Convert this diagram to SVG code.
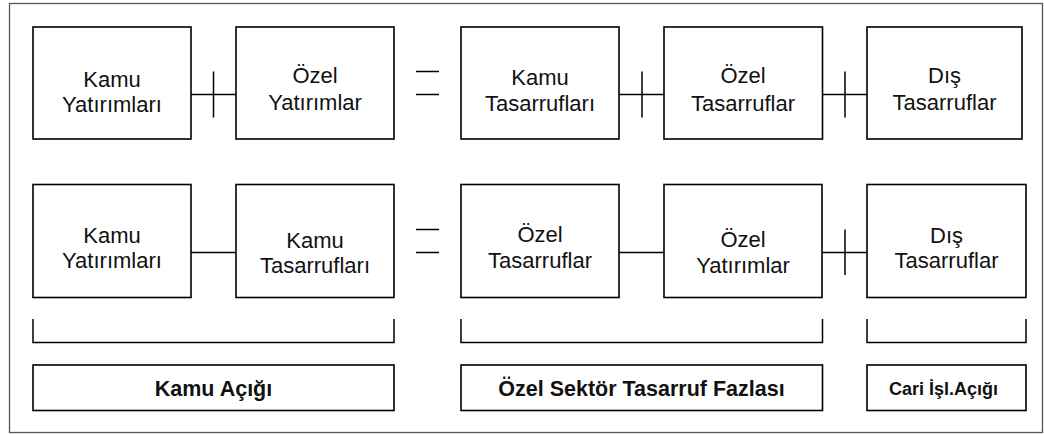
<svg xmlns="http://www.w3.org/2000/svg" width="1044" height="434" viewBox="0 0 1044 434">
  <style>
    .frame { fill: #ffffff; stroke: #555555; stroke-width: 1.3; }
    .box { fill: #ffffff; stroke: #000000; stroke-width: 1.6; }
    .line { fill: none; stroke: #000000; stroke-width: 1.5; }
    .lbl { font-family: "Liberation Sans", Arial, Helvetica, sans-serif; font-size: 22px; fill: #111111; text-anchor: middle; }
    .sum { font-family: "Liberation Sans", Arial, Helvetica, sans-serif; font-weight: bold; fill: #111111; text-anchor: middle; }
  </style>

  <!-- outer frame -->
  <rect class="frame" x="9.5" y="3.5" width="1033" height="429"/>

  <!-- first identity: investments = savings -->
  <g id="r1-kamu-yatirimlari">
    <rect class="box" x="33" y="27" width="158" height="112"/>
    <text class="lbl" x="112" y="86.5">Kamu</text>
    <text class="lbl" x="112" y="112">Yatırımları</text>
  </g>
  <g id="r1-ozel-yatirimlar">
    <rect class="box" x="236" y="27" width="158" height="112"/>
    <text class="lbl" x="315" y="83">Özel</text>
    <text class="lbl" x="315" y="110">Yatırımlar</text>
  </g>
  <g id="r1-kamu-tasarruflari">
    <rect class="box" x="461" y="27" width="158" height="112"/>
    <text class="lbl" x="540" y="85">Kamu</text>
    <text class="lbl" x="540" y="111">Tasarrufları</text>
  </g>
  <g id="r1-ozel-tasarruflar">
    <rect class="box" x="664" y="27" width="158.5" height="112"/>
    <text class="lbl" x="743" y="83">Özel</text>
    <text class="lbl" x="743" y="110.5">Tasarruflar</text>
  </g>
  <g id="r1-dis-tasarruflar">
    <rect class="box" x="867" y="27" width="155" height="112"/>
    <text class="lbl" x="944.5" y="83">Dış</text>
    <text class="lbl" x="944.5" y="110">Tasarruflar</text>
  </g>

  <!-- second identity: rearranged balances -->
  <g id="r2-kamu-yatirimlari">
    <rect class="box" x="33" y="184.5" width="158" height="113"/>
    <text class="lbl" x="112" y="243">Kamu</text>
    <text class="lbl" x="112" y="268">Yatırımları</text>
  </g>
  <g id="r2-kamu-tasarruflari">
    <rect class="box" x="236" y="184.5" width="158" height="113"/>
    <text class="lbl" x="315" y="248">Kamu</text>
    <text class="lbl" x="315" y="273">Tasarrufları</text>
  </g>
  <g id="r2-ozel-tasarruflar">
    <rect class="box" x="461" y="184.5" width="158" height="113"/>
    <text class="lbl" x="540" y="242">Özel</text>
    <text class="lbl" x="540" y="268">Tasarruflar</text>
  </g>
  <g id="r2-ozel-yatirimlar">
    <rect class="box" x="664" y="184.5" width="158" height="113"/>
    <text class="lbl" x="743" y="247">Özel</text>
    <text class="lbl" x="743" y="273">Yatırımlar</text>
  </g>
  <g id="r2-dis-tasarruflar">
    <rect class="box" x="867" y="184.5" width="159" height="113"/>
    <text class="lbl" x="946.5" y="243">Dış</text>
    <text class="lbl" x="946.5" y="268">Tasarruflar</text>
  </g>

  <!-- connectors: links, plus ticks, equals signs, brackets -->
  <g id="connectors">
    <path class="line" d="M191,94.5 H236 M213.5,71.5 V117.5"/>
    <path class="line" d="M619,94.5 H664 M642,71.5 V117.5"/>
    <path class="line" d="M822.5,94.5 H867 M845,71.5 V117.5"/>
    <path class="line" d="M416,71.5 H439 M416,94.5 H439"/>

    <path class="line" d="M191,252.5 H236"/>
    <path class="line" d="M619,252.5 H664"/>
    <path class="line" d="M822,252.5 H867 M845,229.5 V275"/>
    <path class="line" d="M416,229.5 H439 M416,252.5 H439"/>

    <path class="line" d="M33,319 V342.5 H394 V319"/>
    <path class="line" d="M461,319 V342.5 H822.5 V319"/>
    <path class="line" d="M867,319 V342.5 H1026 V319"/>
  </g>

  <!-- resulting balances -->
  <g id="kamu-acigi">
    <rect class="box" x="33" y="365" width="361" height="45.5"/>
    <text class="sum" x="213.5" y="396" font-size="21.5">Kamu Açığı</text>
  </g>
  <g id="ozel-sektor-tasarruf-fazlasi">
    <rect class="box" x="461" y="365" width="361.5" height="45.5"/>
    <text class="sum" x="641.5" y="396" font-size="21.5">Özel Sektör Tasarruf Fazlası</text>
  </g>
  <g id="cari-isl-acigi">
    <rect class="box" x="867" y="365" width="159" height="45.5"/>
    <text class="sum" x="943.5" y="394.5" font-size="18">Cari İşl.Açığı</text>
  </g>
</svg>
